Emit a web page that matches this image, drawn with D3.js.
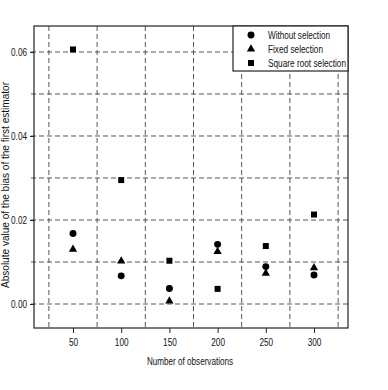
<!DOCTYPE html>
<html><head><meta charset="utf-8">
<script src="https://cdn.jsdelivr.net/npm/d3@7"></script>
<style>body{margin:0;background:#fff}svg{display:block}text{font-family:"Liberation Sans",Arial,sans-serif;fill:#111}</style>
</head><body>
<svg id="c" width="388" height="390"></svg>
<script>
const observations = [50, 100, 150, 200, 250, 300];
const withoutSelection = [0.0168, 0.0067, 0.0037, 0.0142, 0.0089, 0.0069];
const fixedSelection = [0.0130, 0.0102, 0.0007, 0.0125, 0.0073, 0.0086];
const squareRootSelection = [0.0606, 0.0295, 0.0103, 0.0036, 0.0138, 0.0213];
const xTicks = [50, 100, 150, 200, 250, 300];
const xGrid = [25, 75, 125, 175, 225, 275, 325];
const yTicks = [0.00, 0.02, 0.04, 0.06];
const yGrid = [0.00, 0.01, 0.02, 0.03, 0.04, 0.05, 0.06];
const seriesNames = ["Without selection", "Fixed selection", "Square root selection"];
const seriesSymbols = ["circle", "triangle", "square"];

const L = 34, R = 348, T = 26, B = 328;
const x = d3.scaleLinear().domain([9.54, 335.27]).range([L, R]);
const y = d3.scaleLinear().domain([-0.005714, 0.06619]).range([B, T]);
const svg = d3.select("#c");
const gridColor = "#555";

// compress text horizontally (narrow font look)
function narrow(sel, f) {
  sel.each(function () {
    const w = this.getComputedTextLength();
    d3.select(this).attr("textLength", w * f).attr("lengthAdjust", "spacingAndGlyphs");
  });
}

// grid
svg.append("g").selectAll("line").data(yGrid).join("line")
  .attr("x1", L - 3).attr("x2", R).attr("y1", d => y(d)).attr("y2", d => y(d))
  .attr("stroke", gridColor).attr("stroke-width", 1).attr("stroke-dasharray", "5,3");
svg.append("g").selectAll("line").data(xGrid).join("line")
  .attr("y1", T).attr("y2", B + 2).attr("x1", d => x(d)).attr("x2", d => x(d))
  .attr("stroke", gridColor).attr("stroke-width", 1).attr("stroke-dasharray", "5,3");

// axes
const xAxis = d3.axisBottom(x).tickValues(xTicks).tickSize(5).tickPadding(6).tickFormat(d3.format("d"));
const gx = svg.append("g").attr("transform", `translate(0,${B})`).call(xAxis);
gx.select(".domain").remove();
gx.selectAll("line").attr("stroke", "#222");
gx.selectAll("text").attr("font-size", 10).attr("font-family", null).attr("fill", "#111").call(narrow, 0.82);

const yAxis = d3.axisLeft(y).tickValues(yTicks).tickSize(4).tickPadding(3).tickFormat(d3.format(".2f"));
const gy = svg.append("g").attr("transform", `translate(${L},0)`).call(yAxis);
gy.select(".domain").remove();
gy.selectAll("line").attr("stroke", "#222");
gy.selectAll("text").attr("font-size", 10).attr("font-family", null).attr("fill", "#111").call(narrow, 0.82);

// frame
svg.append("rect").attr("x", L).attr("y", T).attr("width", R - L).attr("height", B - T)
  .attr("fill", "none").attr("stroke", "#222").attr("stroke-width", 1.2);

// labels
svg.append("text").attr("x", 190).attr("y", 365).attr("text-anchor", "middle")
  .attr("font-size", 10).attr("textLength", 86).attr("lengthAdjust", "spacingAndGlyphs")
  .text("Number of observations");
svg.append("text").attr("transform", "translate(9,185) rotate(-90)").attr("text-anchor", "middle")
  .attr("font-size", 10).attr("textLength", 206).attr("lengthAdjust", "spacingAndGlyphs")
  .text("Absolute value of the bias of the first estimator");

// points
const symType = {circle: d3.symbolCircle, triangle: d3.symbolTriangle, square: d3.symbolSquare};
const symSize = {circle: 38, triangle: 30, square: 36};
const allSeries = [withoutSelection, fixedSelection, squareRootSelection];
allSeries.forEach((vals, i) => {
  const s = seriesSymbols[i];
  svg.append("g").selectAll("path").data(vals).join("path")
    .attr("d", d3.symbol().type(symType[s]).size(symSize[s]))
    .attr("transform", (d, j) => `translate(${x(observations[j])},${y(d)})`)
    .attr("fill", "#000");
});

// legend
const lg = svg.append("g");
lg.append("rect").attr("x", 233).attr("y", T).attr("width", R - 233).attr("height", 45)
  .attr("fill", "#fff").attr("stroke", "#222").attr("stroke-width", 1.2);
const legendLens = [62, 55, 78];
seriesNames.forEach((name, i) => {
  const yy = T + 9 + i * 14;
  const s = seriesSymbols[i];
  lg.append("path").attr("d", d3.symbol().type(symType[s]).size(symSize[s]))
    .attr("transform", `translate(251,${yy})`).attr("fill", "#000");
  lg.append("text").attr("x", 268).attr("y", yy + 3.5).attr("font-size", 10)
    .attr("textLength", legendLens[i]).attr("lengthAdjust", "spacingAndGlyphs").text(name);
});
</script>
</body></html>
